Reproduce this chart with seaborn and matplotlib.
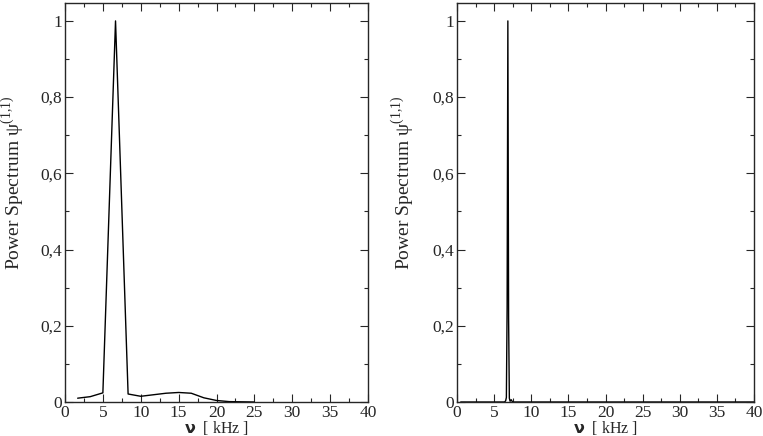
import numpy as np
import pandas as pd
import seaborn as sns
import matplotlib.pyplot as plt
from matplotlib.ticker import MultipleLocator, FuncFormatter

# left panel: coarse spectrum (kHz, normalised power)
freq_coarse = [1.67, 3.33, 5.0, 6.67, 8.33, 10.0, 11.67, 13.33, 15.0, 16.67, 18.33, 20.0, 21.67, 23.33, 25.0]
power_coarse = [0.010, 0.014, 0.024, 1.0, 0.021, 0.015, 0.019, 0.023, 0.025, 0.023, 0.011, 0.004, 0.001, 0.0005, 0.0]

# right panel: fine spectrum
freq_fine = [0.5, 6.4, 6.55, 6.65, 6.75, 6.85, 6.95, 7.05, 7.15, 7.3, 7.45, 7.6, 40.0]
power_fine = [0.0, 0.0, 0.003, 0.012, 0.25, 1.0, 0.22, 0.01, 0.002, 0.006, 0.001, 0.0, 0.0]

sns.set_style("ticks")
plt.rcParams['font.family'] = ['Liberation Serif', 'DejaVu Serif']
plt.rcParams['mathtext.fontset'] = 'custom'
plt.rcParams['mathtext.rm'] = 'Liberation Serif'

fig = plt.figure(figsize=(7.63, 4.36), dpi=100)
ax1 = fig.add_axes([65 / 763, 34 / 436, 303 / 763, 399 / 436])
ax2 = fig.add_axes([457 / 763, 34 / 436, 297 / 763, 399 / 436])

df1 = pd.DataFrame({'nu': freq_coarse, 'p': power_coarse})
df2 = pd.DataFrame({'nu': freq_fine, 'p': power_fine})
sns.lineplot(data=df1, x='nu', y='p', ax=ax1, color='black', linewidth=1.0)
sns.lineplot(data=df2, x='nu', y='p', ax=ax2, color='black', linewidth=1.0)

fmt = FuncFormatter(lambda v, pos: ('%g' % round(v, 2)).replace('.', ','))
for ax, lx in ((ax1, -0.128), (ax2, -0.138)):
    ax.set_xlim(0, 40)
    ax.set_ylim(0, 1.047)
    ax.xaxis.set_major_locator(MultipleLocator(5))
    ax.xaxis.set_minor_locator(MultipleLocator(2.5))
    ax.yaxis.set_major_locator(MultipleLocator(0.2))
    ax.yaxis.set_minor_locator(MultipleLocator(0.1))
    ax.yaxis.set_major_formatter(fmt)
    ax.tick_params(which='both', direction='in', top=True, right=True, labelsize=12.5, pad=2)
    ax.tick_params(which='major', length=6, width=0.8)
    ax.tick_params(which='minor', length=3, width=0.8)
    for s in ax.spines.values():
        s.set_linewidth(1.0)
    ax.set_xlabel(r'$\mathbf{ν}$  [ kHz ]', fontsize=11.5, labelpad=-1)
    ax.set_ylabel(r'Power Spectrum ψ$^{(1{,}1)}$', fontsize=14)
    ax.yaxis.set_label_coords(lx, 0.55)

fig.savefig('out.png', dpi=100)
